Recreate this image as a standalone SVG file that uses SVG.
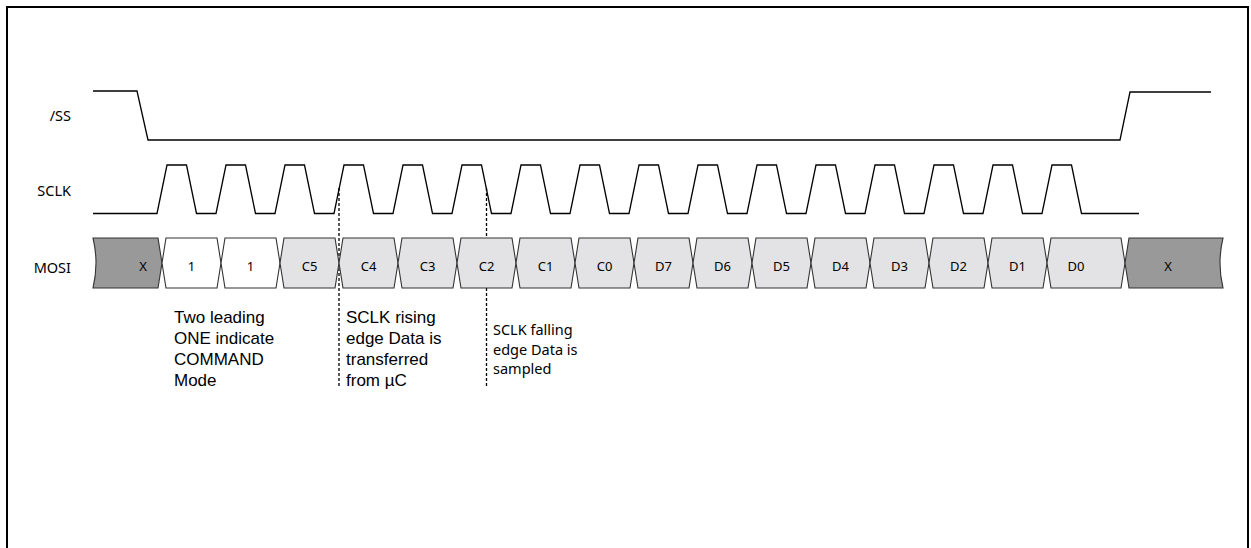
<svg xmlns="http://www.w3.org/2000/svg" width="1251" height="548" viewBox="0 0 1251 548">
<style>
.sig{fill:none;stroke:#000;stroke-width:1.3;stroke-linejoin:miter}
.cell{stroke:#333;stroke-width:1.1}
.dark{fill:#999999}
.white{fill:#ffffff}
.light{fill:#e3e3e5}
.lbl{font-family:"Noto Sans","Open Sans",sans-serif;font-size:14.5px;fill:#000;text-anchor:end}
.ct{font-family:"Noto Sans","Open Sans",sans-serif;font-size:13px;fill:#000;text-anchor:middle}
.ann{font-family:"Liberation Sans",Arial,sans-serif;font-size:17px;fill:#000}
.ann2{font-family:"Noto Sans","Open Sans",sans-serif;font-size:14.5px;fill:#000}
.dash{fill:none;stroke:#000;stroke-width:1.3;stroke-dasharray:3 2}
</style>
<rect x="0" y="0" width="1251" height="548" fill="#fff"/>
<path d="M7,548 V7 H1248 V548" fill="none" stroke="#000" stroke-width="2"/>

<g id="connectors">
<line class="dash" x1="339" y1="188" x2="339" y2="387"/>
<line class="dash" x1="486.5" y1="188" x2="486.5" y2="387"/>
</g>

<g id="label-ss"><text class="lbl" x="71" y="121">/SS</text></g>
<g id="label-sclk"><text class="lbl" x="71" y="196">SCLK</text></g>
<g id="label-mosi"><text class="lbl" x="71" y="273">MOSI</text></g>

<g id="wave-ss"><path class="sig" d="M93,91 H137 L148,140 H1120 L1130,92 H1211"/></g>
<g id="wave-sclk"><path class="sig" d="M93,213.5 H157 L167,165 H186.5 L196.5,213.5 H216 L226,165 H245.5 L255.5,213.5 H275 L285,165 H304.5 L314.5,213.5 H334 L344,165 H363.5 L373.5,213.5 H393 L403,165 H422.5 L432.5,213.5 H452 L462,165 H481.5 L491.5,213.5 H511 L521,165 H540.5 L550.5,213.5 H570 L580,165 H599.5 L609.5,213.5 H629 L639,165 H658.5 L668.5,213.5 H688 L698,165 H717.5 L727.5,213.5 H747 L757,165 H776.5 L786.5,213.5 H806 L816,165 H835.5 L845.5,213.5 H865 L875,165 H894.5 L904.5,213.5 H924 L934,165 H953.5 L963.5,213.5 H983 L993,165 H1012.5 L1022.5,213.5 H1042 L1052,165 H1071.5 L1081.5,213.5 H1139"/></g>

<g id="cell-x0"><path class="cell dark" d="M93,238 H158 L162,263 L158,288 H93 Q99,263 93,238 Z"/><text class="ct" x="143" y="271">X</text></g>
<g id="cell-1a"><path class="cell white" d="M166,238 H217 L221,263 L217,288 H166 L162,263 Z"/><text class="ct" x="191.5" y="271">1</text></g>
<g id="cell-1b"><path class="cell white" d="M225,238 H276 L280,263 L276,288 H225 L221,263 Z"/><text class="ct" x="250.5" y="271">1</text></g>
<g id="cell-c5"><path class="cell light" d="M284,238 H335 L339,263 L335,288 H284 L280,263 Z"/><text class="ct" x="309.5" y="271">C5</text></g>
<g id="cell-c4"><path class="cell light" d="M343,238 H394 L398,263 L394,288 H343 L339,263 Z"/><text class="ct" x="368.5" y="271">C4</text></g>
<g id="cell-c3"><path class="cell light" d="M402,238 H453 L457,263 L453,288 H402 L398,263 Z"/><text class="ct" x="427.5" y="271">C3</text></g>
<g id="cell-c2"><path class="cell light" d="M461,238 H512 L516,263 L512,288 H461 L457,263 Z"/><text class="ct" x="486.5" y="271">C2</text></g>
<g id="cell-c1"><path class="cell light" d="M520,238 H571 L575,263 L571,288 H520 L516,263 Z"/><text class="ct" x="545.5" y="271">C1</text></g>
<g id="cell-c0"><path class="cell light" d="M579,238 H630 L634,263 L630,288 H579 L575,263 Z"/><text class="ct" x="604.5" y="271">C0</text></g>
<g id="cell-d7"><path class="cell light" d="M638,238 H689 L693,263 L689,288 H638 L634,263 Z"/><text class="ct" x="663.5" y="271">D7</text></g>
<g id="cell-d6"><path class="cell light" d="M697,238 H748 L752,263 L748,288 H697 L693,263 Z"/><text class="ct" x="722.5" y="271">D6</text></g>
<g id="cell-d5"><path class="cell light" d="M756,238 H807 L811,263 L807,288 H756 L752,263 Z"/><text class="ct" x="781.5" y="271">D5</text></g>
<g id="cell-d4"><path class="cell light" d="M815,238 H866 L870,263 L866,288 H815 L811,263 Z"/><text class="ct" x="840.5" y="271">D4</text></g>
<g id="cell-d3"><path class="cell light" d="M874,238 H925 L929,263 L925,288 H874 L870,263 Z"/><text class="ct" x="899.5" y="271">D3</text></g>
<g id="cell-d2"><path class="cell light" d="M933,238 H984 L988,263 L984,288 H933 L929,263 Z"/><text class="ct" x="958.5" y="271">D2</text></g>
<g id="cell-d1"><path class="cell light" d="M992,238 H1043 L1047,263 L1043,288 H992 L988,263 Z"/><text class="ct" x="1017.5" y="271">D1</text></g>
<g id="cell-d0"><path class="cell light" d="M1051,238 H1121 L1125,263 L1121,288 H1051 L1047,263 Z"/><text class="ct" x="1076" y="271">D0</text></g>
<g id="cell-x1"><path class="cell dark" d="M1129,238 H1223 Q1217,263 1223,288 H1129 L1125,263 Z"/><text class="ct" x="1168" y="271">X</text></g>

<g id="note-command">
<text class="ann" x="174" y="323">Two leading</text>
<text class="ann" x="174" y="344">ONE indicate</text>
<text class="ann" x="174" y="365">COMMAND</text>
<text class="ann" x="174" y="386">Mode</text>
</g>
<g id="note-rising">
<text class="ann" x="346" y="323">SCLK rising</text>
<text class="ann" x="346" y="344">edge Data is</text>
<text class="ann" x="346" y="365">transferred</text>
<text class="ann" x="346" y="386">from µC</text>
</g>
<g id="note-falling">
<text class="ann2" x="493" y="335">SCLK falling</text>
<text class="ann2" x="493" y="354.5">edge Data is</text>
<text class="ann2" x="493" y="374">sampled</text>
</g>
</svg>
